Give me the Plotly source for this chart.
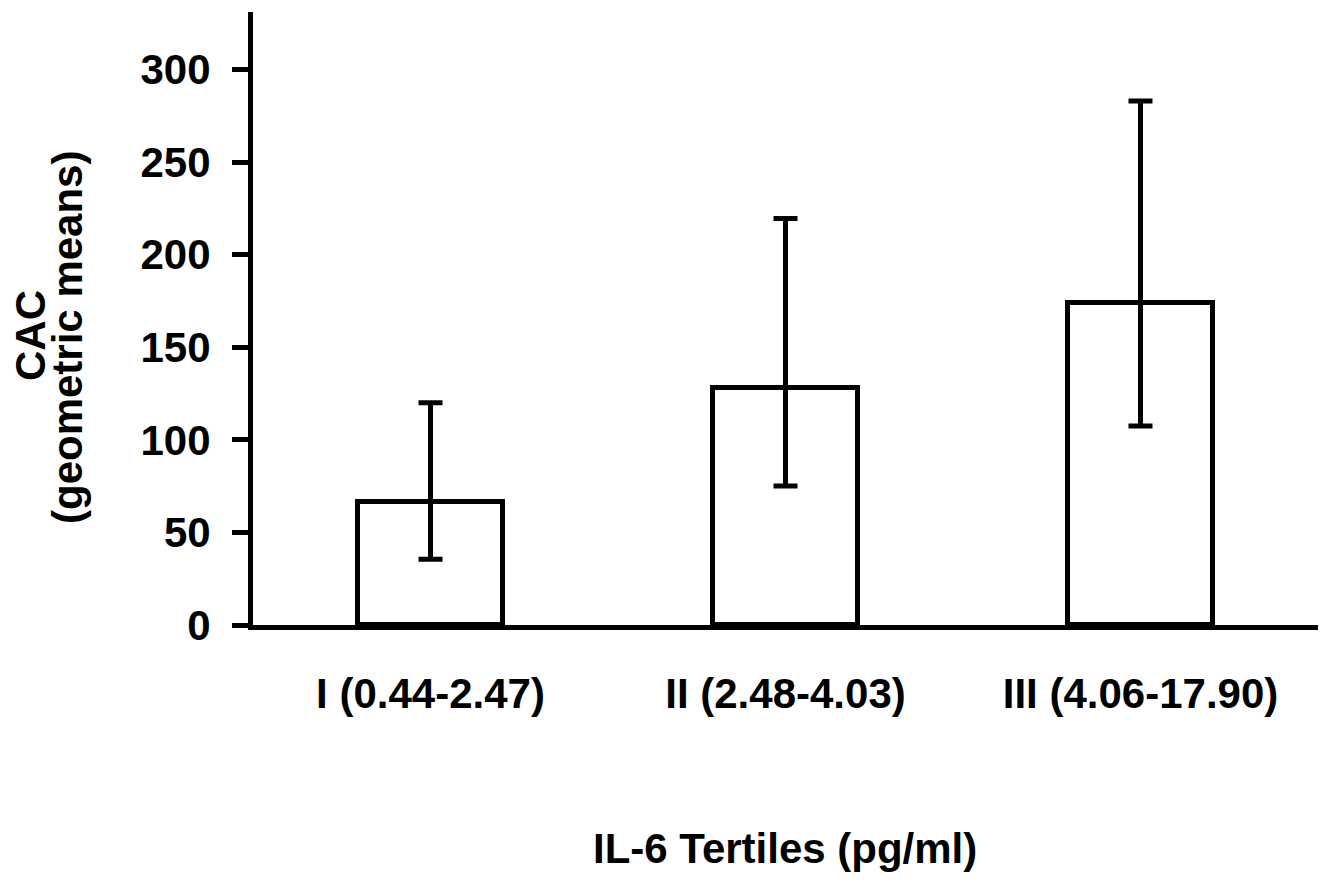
import plotly.graph_objects as go

categories = ["I (0.44-2.47)", "II (2.48-4.03)", "III (4.06-17.90)"]
means = [66.5, 128, 174]
ci_upper = [120, 219.5, 283]
ci_lower = [35.5, 75, 107.5]
y_ticks = [0, 50, 100, 150, 200, 250, 300]

err_plus = [u - m for u, m in zip(ci_upper, means)]
err_minus = [m - l for m, l in zip(means, ci_lower)]

FONT = "Liberation Sans, Arial, sans-serif"
FS = 42
W, H = 1320, 874
ML, MT, PW, PH = 245, 4, 1065, 613

def px_to_paper_x(px):
    return (px - 8 - ML) / PW

def px_to_paper_y(py):
    return 1 - (py - 8 - MT) / PH

fig = go.Figure()
fig.add_trace(go.Bar(
    x=categories,
    y=means,
    width=0.41,
    marker=dict(color="white", line=dict(color="black", width=5)),
    error_y=dict(type="data", symmetric=False, array=err_plus, arrayminus=err_minus,
                 color="black", thickness=5, width=12),
))

fig.update_layout(
    width=W, height=H,
    margin=dict(l=ML, r=W - ML - PW, t=MT, b=H - MT - PH, autoexpand=False),
    paper_bgcolor="white", plot_bgcolor="white",
    showlegend=False,
    font=dict(family=FONT, size=FS, color="black"),
    bargap=0,
    annotations=[
        dict(text="<b>IL-6 Tertiles (pg/ml)</b>", xref="paper", yref="paper",
             x=px_to_paper_x(785), y=px_to_paper_y(848), xanchor="center", yanchor="middle",
             showarrow=False, font=dict(family=FONT, size=FS, color="black")),
        dict(text="<b>CAC</b>", xref="paper", yref="paper", textangle=-90,
             x=px_to_paper_x(30), y=px_to_paper_y(336), xanchor="center", yanchor="middle",
             showarrow=False, font=dict(family=FONT, size=FS, color="black")),
        dict(text="<b>(geometric means)</b>", xref="paper", yref="paper", textangle=-90,
             x=px_to_paper_x(68), y=px_to_paper_y(338), xanchor="center", yanchor="middle",
             showarrow=False, font=dict(family=FONT, size=FS, color="black")),
    ],
)
fig.update_xaxes(
    range=[-0.5, 2.5],
    showline=True, linecolor="black", linewidth=5,
    ticks="", showgrid=False, zeroline=False,
    tickfont=dict(family=FONT, size=FS, color="black", weight="bold"),
    ticklabelstandoff=28,
    automargin=False,
)
fig.update_yaxes(
    range=[0, 331],
    tickvals=y_ticks,
    showline=True, linecolor="black", linewidth=5,
    ticks="outside", ticklen=16, tickwidth=5, tickcolor="black",
    showgrid=False, zeroline=False,
    tickfont=dict(family=FONT, size=FS, color="black", weight="bold"),
    ticklabelstandoff=13,
    automargin=False,
)

fig.write_html("out.html")
